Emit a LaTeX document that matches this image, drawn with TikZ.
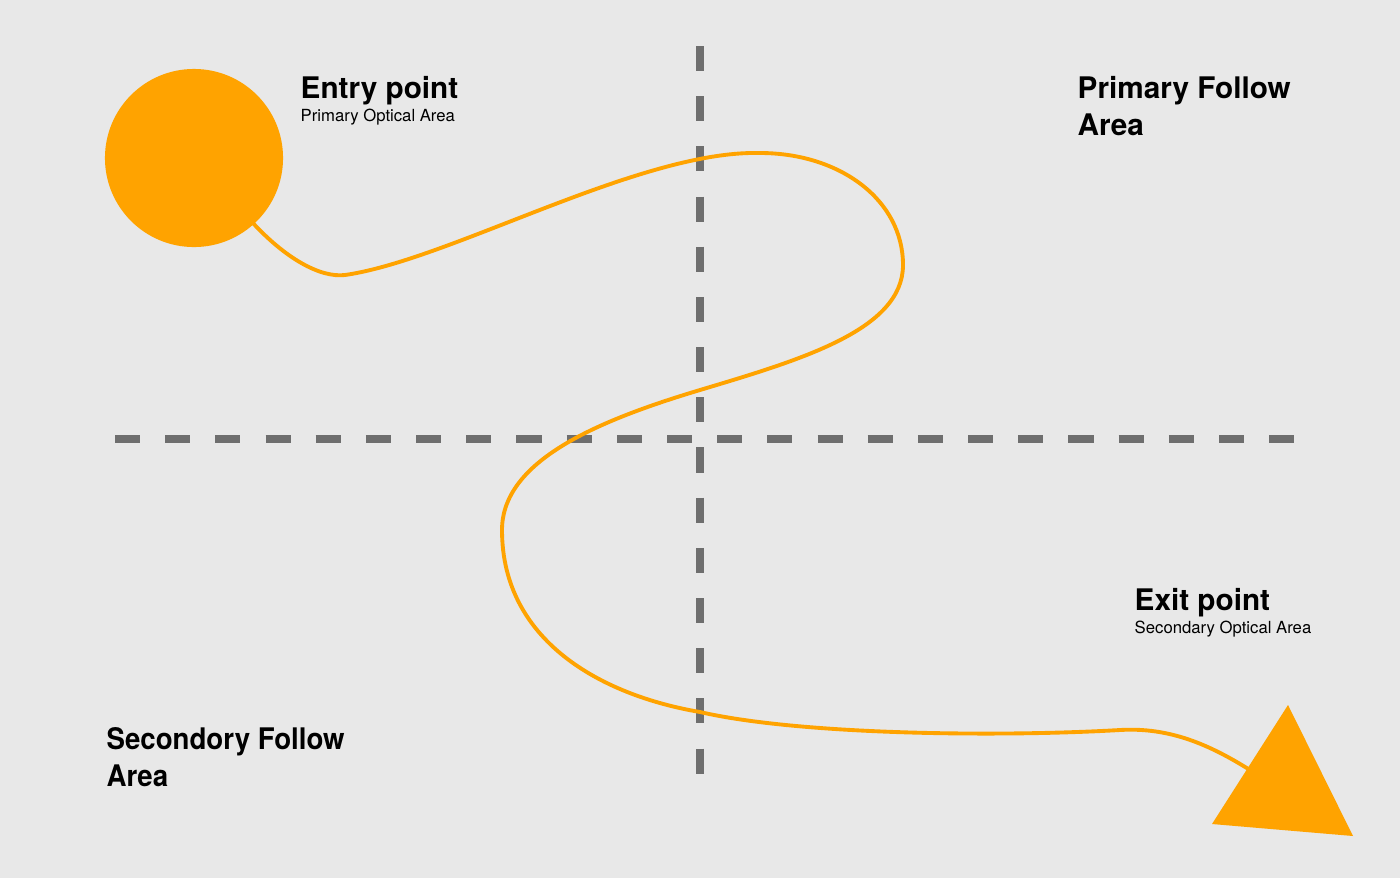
\documentclass[tikz,border=0pt]{standalone}
\usepackage{fontspec}
\setmainfont{TeX Gyre Heros}
\usepackage{tikz}
\definecolor{bg}{HTML}{E8E8E8}
\definecolor{flow}{HTML}{FFA300}
\definecolor{rule}{HTML}{6E6E6E}
\tikzset{divider/.style={draw=rule,line width=2.3pt,dash pattern=on 7.13pt off 7.14pt}}
\tikzset{path/.style={draw=flow,line width=1.1pt}}
\tikzset{title/.style={anchor=base west,inner sep=0pt,font=\bfseries\fontsize{8.45}{10.5}\selectfont}}
\tikzset{sub/.style={anchor=base west,inner sep=0pt,font=\fontsize{4.75}{6}\selectfont}}
\tikzset{area/.style={anchor=north west,inner sep=0pt,align=left,font=\bfseries\fontsize{8.45}{10.5}\selectfont}}
\begin{document}
\begin{tikzpicture}[x=0.01cm,y=-0.01cm]
\fill[bg] (0,0) rectangle (1400,878);
\useasboundingbox (0,0) rectangle (1400,878);

\draw[divider] (115,439) -- (1295,439);
\draw[divider] (700,46) -- (700,774);

\node[circle,fill=flow,minimum size=1.78cm,inner sep=0pt](entry) at (194,158) {};
\coordinate (start) at (252,222);
\coordinate (finish) at (1250,770);

\draw[path] (start) .. controls (285,258) and (320,278) .. (345,275)
  .. controls (450,260) and (640,150) .. (760,153)
  .. controls (840,153) and (903,200) .. (903,265)
  .. controls (903,330) and (800,360) .. (700,390)
  .. controls (600,420) and (502,460) .. (502,530)
  .. controls (502,640) and (600,695) .. (700,712)
  .. controls (800,735) and (1000,737) .. (1120,730)
  .. controls (1170,727) and (1210,745) .. (finish);

\fill[flow] (1288,705) -- (1353,836) -- (1212,824) -- cycle;
\coordinate (exit) at (1284,788);

\node[title](entrytitle) at (300,98) {Entry point};
\node[sub](entrysub) at (300,121) {Primary Optical Area};
\node[title](exittitle) at (1134,610) {Exit point};
\node[sub](exitsub) at (1134,633) {Secondary Optical Area};
\node[area](primary) at (1077,76) {Primary Follow\\Area};
\node[area,xscale=0.93,transform shape](secondary) at (106,727) {Secondory Follow\\Area};
\end{tikzpicture}
\end{document}
